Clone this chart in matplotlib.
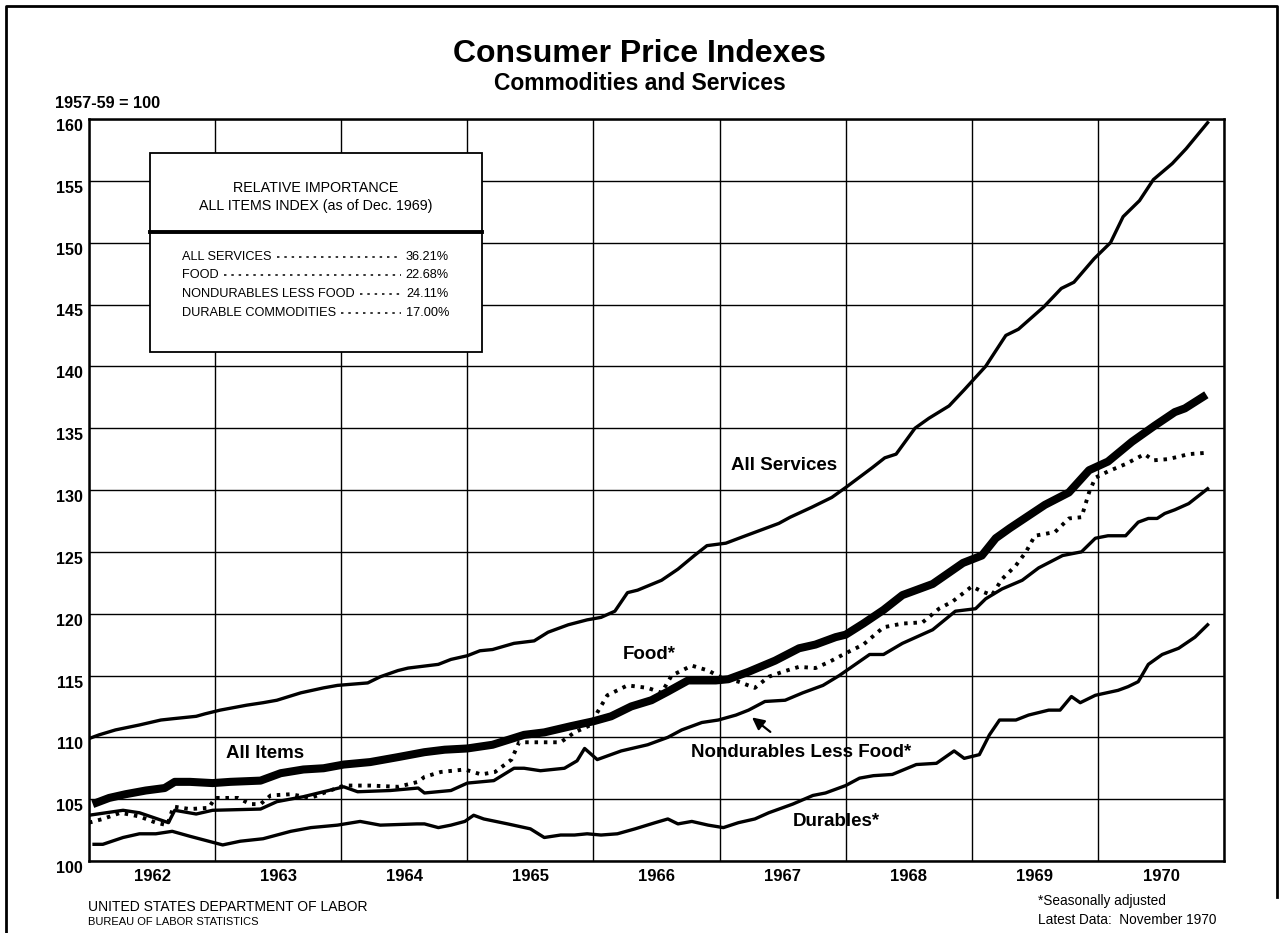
import matplotlib.pyplot as plt
from matplotlib.patches import Rectangle
from matplotlib.lines import Line2D

plt.rcParams['font.family'] = ['Liberation Sans', 'DejaVu Sans']

# values (1957-59 = 100), x in decimal years
services_x = [1962.00, 1962.08, 1962.21, 1962.40, 1962.57, 1962.66, 1962.85, 1962.92, 1963.04, 1963.25,
              1963.38, 1963.49, 1963.68, 1963.86, 1963.97, 1964.21, 1964.31, 1964.45, 1964.53, 1964.77,
              1964.87, 1965.00, 1965.10, 1965.20, 1965.37, 1965.53, 1965.64, 1965.80, 1965.95, 1966.06,
              1966.17, 1966.27, 1966.35, 1966.54, 1966.67, 1966.80, 1966.90, 1967.05, 1967.18, 1967.47,
              1967.56, 1967.73, 1967.89, 1968.00, 1968.21, 1968.31, 1968.40, 1968.55, 1968.66, 1968.82,
              1968.94, 1969.11, 1969.27, 1969.37, 1969.57, 1969.71, 1969.81, 1969.97, 1970.10, 1970.20,
              1970.33, 1970.44, 1970.59, 1970.70, 1970.87]
services_y = [109.9, 110.2, 110.6, 111.0, 111.4, 111.5, 111.7, 111.9, 112.2, 112.6,
              112.8, 113.0, 113.6, 114.0, 114.2, 114.4, 114.9, 115.4, 115.6, 115.9,
              116.3, 116.6, 117.0, 117.1, 117.6, 117.8, 118.5, 119.1, 119.5, 119.7,
              120.2, 121.7, 121.9, 122.7, 123.6, 124.7, 125.5, 125.7, 126.2, 127.3,
              127.8, 128.6, 129.4, 130.2, 131.8, 132.6, 132.9, 135.0, 135.8, 136.8,
              138.1, 140.0, 142.5, 143.0, 144.8, 146.3, 146.8, 148.7, 150.0, 152.1,
              153.4, 155.1, 156.4, 157.6, 159.7]

allitems_x = [1962.03, 1962.16, 1962.29, 1962.45, 1962.60, 1962.68, 1962.80, 1962.98, 1963.12, 1963.36,
              1963.52, 1963.70, 1963.86, 1964.02, 1964.23, 1964.45, 1964.66, 1964.82, 1965.00, 1965.20,
              1965.45, 1965.61, 1965.82, 1966.00, 1966.14, 1966.30, 1966.46, 1966.59, 1966.75, 1966.97,
              1967.07, 1967.23, 1967.44, 1967.63, 1967.76, 1967.92, 1968.00, 1968.14, 1968.30, 1968.45,
              1968.69, 1968.93, 1969.08, 1969.19, 1969.30, 1969.58, 1969.77, 1969.93, 1970.08, 1970.27,
              1970.45, 1970.61, 1970.69, 1970.86]
allitems_y = [104.6, 105.1, 105.4, 105.7, 105.9, 106.4, 106.4, 106.3, 106.4, 106.5,
              107.1, 107.4, 107.5, 107.8, 108.0, 108.4, 108.8, 109.0, 109.1, 109.4,
              110.2, 110.4, 110.9, 111.3, 111.7, 112.5, 113.0, 113.7, 114.6, 114.6,
              114.7, 115.3, 116.2, 117.2, 117.5, 118.1, 118.3, 119.2, 120.3, 121.5,
              122.4, 124.1, 124.7, 126.1, 126.9, 128.8, 129.8, 131.6, 132.3, 133.9,
              135.2, 136.3, 136.6, 137.7]

food_x = [1962.00, 1962.11, 1962.25, 1962.40, 1962.53, 1962.62, 1962.67, 1962.80, 1962.95, 1963.00,
          1963.18, 1963.28, 1963.36, 1963.44, 1963.60, 1963.76, 1963.86, 1964.02, 1964.23, 1964.45,
          1964.61, 1964.66, 1964.79, 1964.98, 1965.11, 1965.22, 1965.35, 1965.41, 1965.55, 1965.74,
          1965.85, 1965.98, 1966.03, 1966.11, 1966.27, 1966.43, 1966.54, 1966.62, 1966.78, 1966.91,
          1967.02, 1967.15, 1967.28, 1967.39, 1967.50, 1967.63, 1967.76, 1967.87, 1968.00, 1968.14,
          1968.30, 1968.45, 1968.61, 1968.74, 1968.85, 1969.00, 1969.08, 1969.16, 1969.24, 1969.35,
          1969.43, 1969.50, 1969.66, 1969.77, 1969.87, 1969.93, 1969.98, 1970.08, 1970.22, 1970.37,
          1970.44, 1970.56, 1970.72, 1970.85]
food_y = [103.1, 103.4, 103.9, 103.6, 103.1, 102.9, 104.4, 104.2, 104.3, 105.1,
          105.1, 104.6, 104.6, 105.3, 105.4, 105.1, 105.5, 106.1, 106.1, 106.0,
          106.4, 106.8, 107.2, 107.4, 107.0, 107.2, 108.2, 109.6, 109.6, 109.6,
          110.4, 111.0, 112.0, 113.4, 114.2, 114.0, 113.6, 115.0, 115.8, 115.4,
          114.8, 114.5, 114.0, 114.9, 115.3, 115.7, 115.6, 116.1, 116.8, 117.5,
          118.9, 119.2, 119.3, 120.4, 121.0, 122.2, 121.8, 121.5, 122.8, 123.9,
          125.0, 126.3, 126.6, 127.7, 127.8, 129.8, 131.0, 131.5, 132.1, 132.9,
          132.4, 132.5, 132.9, 133.0]

nondur_x = [1962.00, 1962.27, 1962.40, 1962.63, 1962.68, 1962.85, 1962.98, 1963.36, 1963.49, 1963.70,
            1964.02, 1964.13, 1964.39, 1964.61, 1964.66, 1964.87, 1965.00, 1965.21, 1965.37, 1965.45,
            1965.58, 1965.77, 1965.87, 1965.93, 1966.03, 1966.22, 1966.43, 1966.59, 1966.70, 1966.86,
            1966.99, 1967.13, 1967.23, 1967.36, 1967.52, 1967.66, 1967.82, 1967.95, 1968.19, 1968.30,
            1968.45, 1968.69, 1968.87, 1969.03, 1969.11, 1969.24, 1969.40, 1969.53, 1969.72, 1969.87,
            1969.98, 1970.08, 1970.22, 1970.32, 1970.40, 1970.47, 1970.53, 1970.61, 1970.72, 1970.87]
nondur_y = [103.7, 104.1, 103.9, 103.1, 104.1, 103.8, 104.1, 104.2, 104.8, 105.2,
            106.0, 105.6, 105.7, 105.9, 105.5, 105.7, 106.3, 106.5, 107.5, 107.5,
            107.3, 107.5, 108.1, 109.1, 108.2, 108.9, 109.4, 110.0, 110.6, 111.2,
            111.4, 111.8, 112.2, 112.9, 113.0, 113.6, 114.2, 115.0, 116.7, 116.7,
            117.6, 118.7, 120.2, 120.4, 121.2, 122.0, 122.7, 123.7, 124.7, 125.0,
            126.1, 126.3, 126.3, 127.4, 127.7, 127.7, 128.1, 128.4, 128.9, 130.1]

durables_x = [1962.04, 1962.11, 1962.27, 1962.40, 1962.53, 1962.66, 1962.80, 1963.06, 1963.20, 1963.38,
              1963.60, 1963.76, 1963.97, 1964.15, 1964.31, 1964.60, 1964.66, 1964.77, 1964.87, 1964.98,
              1965.05, 1965.13, 1965.32, 1965.50, 1965.61, 1965.74, 1965.85, 1965.95, 1966.06, 1966.19,
              1966.33, 1966.49, 1966.59, 1966.67, 1966.78, 1966.91, 1967.03, 1967.15, 1967.28, 1967.39,
              1967.58, 1967.74, 1967.84, 1968.00, 1968.11, 1968.22, 1968.37, 1968.56, 1968.72, 1968.86,
              1968.94, 1969.06, 1969.14, 1969.22, 1969.35, 1969.45, 1969.61, 1969.70, 1969.79, 1969.86,
              1969.98, 1970.16, 1970.24, 1970.32, 1970.40, 1970.51, 1970.64, 1970.77, 1970.87]
durables_y = [101.35, 101.35, 101.9, 102.2, 102.2, 102.4, 102.0, 101.3, 101.6, 101.8,
              102.4, 102.7, 102.9, 103.2, 102.9, 103.0, 103.0, 102.7, 102.9, 103.2,
              103.7, 103.4, 103.0, 102.6, 101.9, 102.1, 102.1, 102.2, 102.1, 102.2,
              102.6, 103.1, 103.4, 103.0, 103.2, 102.9, 102.7, 103.1, 103.4, 103.9,
              104.6, 105.3, 105.5, 106.1, 106.7, 106.9, 107.0, 107.8, 107.9, 108.9,
              108.3, 108.6, 110.2, 111.4, 111.4, 111.8, 112.2, 112.2, 113.3, 112.8,
              113.4, 113.8, 114.1, 114.5, 115.9, 116.7, 117.2, 118.1, 119.1]

years = list(range(1962, 1971))
legend_names = ['ALL SERVICES', 'FOOD', 'NONDURABLES LESS FOOD', 'DURABLE COMMODITIES']
legend_shares = ['36.21%', '22.68%', '24.11%', '17.00%']

W, H = 1279, 933


def fx(px):
    return px / W


def fy(py):
    return 1 - py / H


fig = plt.figure(figsize=(W / 100, H / 100), dpi=100)
ax = fig.add_axes([fx(89), fy(861), fx(1224) - fx(89), fy(119) - fy(861)])

ax.plot(services_x, services_y, color='black', lw=2.4, zorder=3)
ax.plot(nondur_x, nondur_y, color='black', lw=2.4, zorder=3)
ax.plot(durables_x, durables_y, color='black', lw=2.4, zorder=3)
ax.plot(food_x, food_y, color='black', lw=2.8, linestyle=(0, (0.9, 1.5)),
        dash_capstyle='butt', zorder=4)
ax.plot(allitems_x, allitems_y, color='black', lw=5.8, solid_capstyle='butt', zorder=5)

ax.set_xlim(1962, 1971)
ax.set_ylim(100, 160)
ax.set_xticks(range(1962, 1972))
ax.set_xticklabels([''] * 10)
ax.set_xticks([y + 0.5 for y in years], minor=True)
ax.set_xticklabels([str(y) for y in years], minor=True, fontsize=12, fontweight='bold')
ax.tick_params(axis='x', which='both', length=0)
ax.tick_params(axis='x', which='minor', pad=5.5)
ax.set_yticks(range(100, 161, 5))
ax.set_yticklabels([str(v) for v in range(100, 161, 5)], fontsize=11.5,
                   fontweight='bold', va='top')
ax.tick_params(axis='y', length=0, pad=4.5)
ax.grid(which='major', color='black', lw=1.0)
ax.set_axisbelow(True)
for s in ax.spines.values():
    s.set_linewidth(1.8)

# curve labels
lab = dict(fontsize=13.5, fontweight='bold', va='center', ha='left', zorder=6)
ax.text(1967.09, 132.0, 'All Services', **lab)
ax.text(1963.09, 108.7, 'All Items', **lab)
ax.text(1966.23, 116.7, 'Food*', **lab)
ax.text(1966.77, 108.8, 'Nondurables Less Food*', **lab)
ax.text(1967.58, 103.2, 'Durables*', **lab)
ax.annotate('', xy=(1967.24, 111.75), xytext=(1967.42, 110.3),
            arrowprops=dict(arrowstyle='-|>', color='black', lw=1.6, mutation_scale=18))

# titles
fig.text(0.5, fy(62), 'Consumer Price Indexes', ha='center', va='baseline',
         fontsize=23, fontweight='bold')
fig.text(0.5, fy(90), 'Commodities and Services', ha='center', va='baseline',
         fontsize=16.5, fontweight='bold')
fig.text(fx(55), fy(103), '1957-59 = 100', ha='left', va='center',
         fontsize=11.7, fontweight='bold')

# relative importance box
fig.add_artist(Rectangle((fx(150), fy(352)), fx(482) - fx(150), fy(153) - fy(352),
                         transform=fig.transFigure, facecolor='white',
                         edgecolor='black', lw=1.3, zorder=10))
fig.add_artist(Line2D([fx(150), fx(482)], [fy(232), fy(232)], transform=fig.transFigure,
                      color='black', lw=2.8, zorder=11))
fig.text(fx(316), fy(188), 'RELATIVE IMPORTANCE', ha='center', va='center',
         fontsize=10.3, zorder=12)
fig.text(fx(316), fy(206), 'ALL ITEMS INDEX (as of Dec. 1969)', ha='center',
         va='center', fontsize=10.3, zorder=12)

row_y = [257, 275, 294, 313]
names_t, shares_t = [], []
for name, share, ry in zip(legend_names, legend_shares, row_y):
    names_t.append(fig.text(fx(182), fy(ry), name, ha='left', va='center',
                            fontsize=9.2, zorder=12))
    shares_t.append(fig.text(fx(449), fy(ry), share, ha='right', va='center',
                             fontsize=9.2, zorder=12))

fig.canvas.draw()
for nt, st, ry in zip(names_t, shares_t, row_y):
    x0 = nt.get_window_extent().x1 + 5
    x1 = st.get_window_extent().x0 - 5
    fig.add_artist(Line2D([x0 / W, x1 / W], [fy(ry), fy(ry)], transform=fig.transFigure,
                          color='black', lw=1.1, linestyle=(0, (1.6, 3.2)),
                          dash_capstyle='butt', zorder=12))

# footers
fig.text(fx(88), fy(907), 'UNITED STATES DEPARTMENT OF LABOR', ha='left', va='center',
         fontsize=10)
fig.text(fx(88), fy(922), 'BUREAU OF LABOR STATISTICS', ha='left', va='center',
         fontsize=8)
fig.text(fx(1038), fy(901), '*Seasonally adjusted', ha='left', va='center', fontsize=9.8)
fig.text(fx(1038), fy(920), 'Latest Data:  November 1970', ha='left', va='center',
         fontsize=9.8)

# outer frame
fig.add_artist(Line2D([fx(6), fx(6), fx(1277), fx(1277)], [fy(933), fy(6), fy(6), fy(897)],
                      transform=fig.transFigure, color='black', lw=2.0, zorder=1))

fig.savefig('out.png', dpi=100)
